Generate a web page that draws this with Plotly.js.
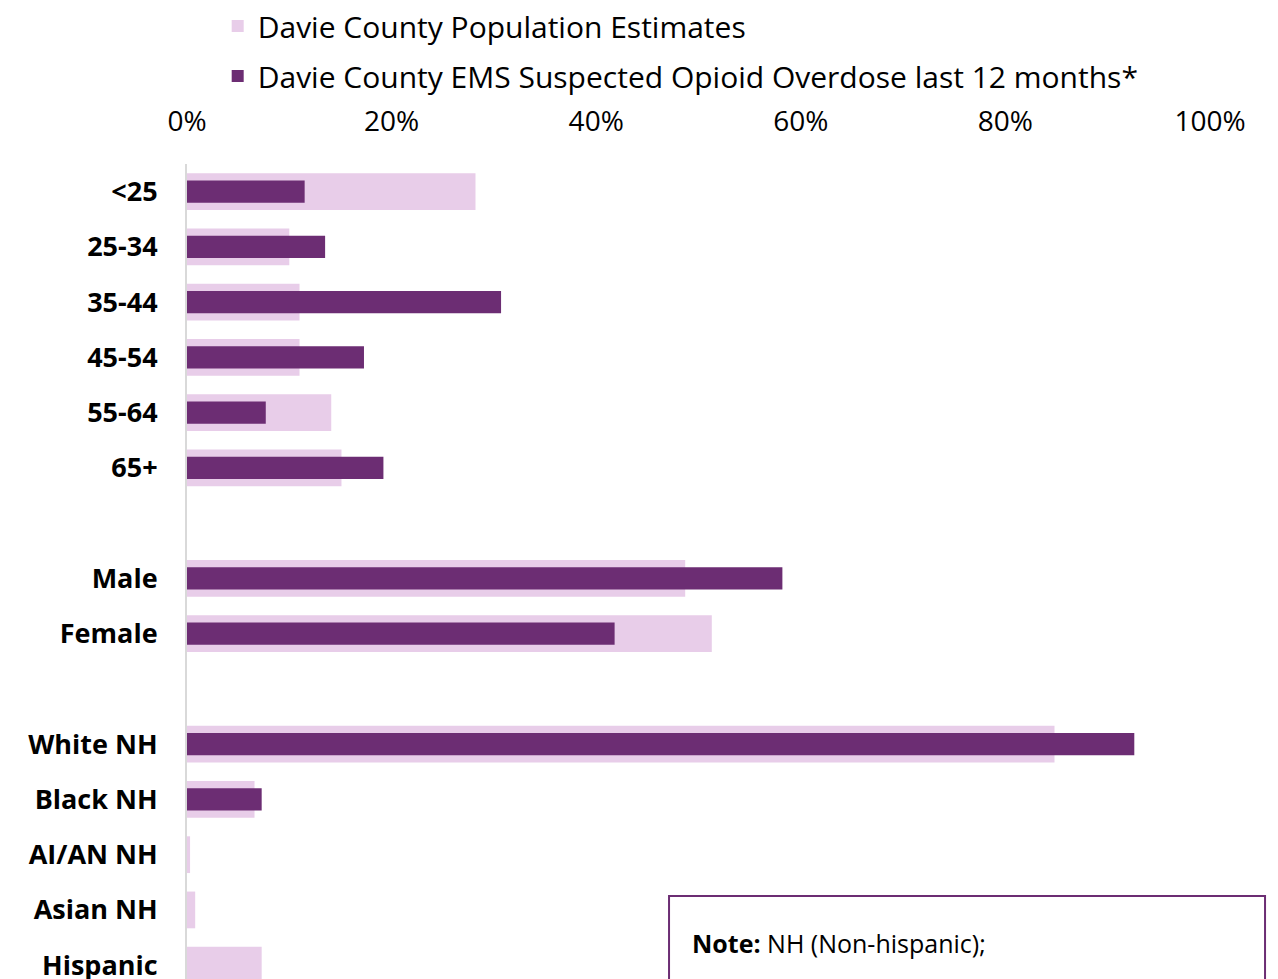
<!DOCTYPE html>
<html>
<head>
<meta charset="utf-8">
<script src="https://cdn.plot.ly/plotly-3.0.1.min.js"></script>
<style>
  html, body { margin: 0; padding: 0; background: #ffffff; }
  #chart { width: 1278px; height: 979px; }
</style>
</head>
<body>
<div id="chart"></div>
<script>
// Categories (blank entries are the spacer rows between groups)
const categories = ['<25', '25-34', '35-44', '45-54', '55-64', '65+', ' ',
                    'Male', 'Female', '  ',
                    'White NH', 'Black NH', 'AI/AN NH', 'Asian NH', 'Hispanic'];

// Share of Davie County population (fraction)
const populationEstimates = [0.282, 0.100, 0.110, 0.110, 0.141, 0.151, null,
                             0.487, 0.513, null,
                             0.848, 0.066, 0.003, 0.008, 0.073];

// Share of EMS suspected opioid overdoses, last 12 months (fraction)
const emsOverdoses = [0.115, 0.135, 0.307, 0.173, 0.077, 0.192, null,
                      0.582, 0.418, null,
                      0.926, 0.073, 0, 0, 0];

const xTickVals = [0, 0.2, 0.4, 0.6, 0.8, 1.0];
const xTickText = ['0%', '20%', '40%', '60%', '80%', '100%'];

const seriesNames = ['Davie County Population Estimates',
                     'Davie County EMS Suspected Opioid Overdose last 12 months*'];

const FONT = '"Open Sans", Lato, sans-serif';

const traces = [
  {
    type: 'bar',
    orientation: 'h',
    name: seriesNames[0],
    y: categories,
    x: populationEstimates,
    width: 0.665,
    marker: { color: '#E8CDE9', line: { width: 0 } },
    legendgroup: 'a',
    hovertemplate: '%{y}: %{x:.1%}<extra></extra>'
  },
  {
    type: 'bar',
    orientation: 'h',
    name: seriesNames[1],
    y: categories,
    x: emsOverdoses,
    width: 0.40,
    marker: { color: '#6C2D73', line: { width: 0 } },
    legendgroup: 'b',
    hovertemplate: '%{y}: %{x:.1%}<extra></extra>'
  }
];

const layout = {
  width: 1278,
  height: 979,
  margin: { l: 187, r: 68, t: 164, b: 0, pad: 0 },
  paper_bgcolor: '#ffffff',
  plot_bgcolor: '#ffffff',
  barmode: 'overlay',
  font: { family: FONT, color: '#000000', size: 26 },
  showlegend: true,
  legend: {
    orientation: 'v',
    x: 0.03,
    xanchor: 'left',
    yref: 'container',
    y: 1.0,
    yanchor: 'top',
    traceorder: 'grouped',
    tracegroupgap: 8,
    font: { family: FONT, size: 30, color: '#000000' },
    bgcolor: 'rgba(0,0,0,0)'
  },
  xaxis: {
    side: 'top',
    range: [0, 1],
    tickvals: xTickVals,
    ticktext: xTickText,
    showgrid: false,
    zeroline: false,
    showline: false,
    ticks: '',
    ticklabelstandoff: 26,
    tickfont: { family: FONT, size: 28, color: '#000000' },
    fixedrange: true
  },
  yaxis: {
    type: 'category',
    categoryorder: 'array',
    categoryarray: categories,
    range: [14.25, -0.5],
    showgrid: false,
    zeroline: false,
    showline: true,
    linecolor: '#D9D9D9',
    linewidth: 2,
    ticks: '',
    ticklabelstandoff: 22,
    tickfont: { family: FONT, size: 27, color: '#000000', weight: 'bold' },
    fixedrange: true
  },
  shapes: [
    {
      type: 'rect',
      xref: 'paper', yref: 'paper',
      x0: 0.4712, x1: 1.0538,
      y0: -0.1, y1: 0.1019,
      line: { color: '#6C2D73', width: 2 },
      fillcolor: '#ffffff',
      layer: 'above'
    }
  ],
  annotations: [
    {
      xref: 'paper', yref: 'paper',
      x: 0.4917, y: 0.0442,
      xanchor: 'left', yanchor: 'middle',
      showarrow: false,
      align: 'left',
      text: '<b>Note:</b> NH (Non-hispanic);',
      font: { family: FONT, size: 25, color: '#000000' }
    }
  ]
};

Plotly.newPlot('chart', traces, layout, { displayModeBar: false, staticPlot: true });
</script>
</body>
</html>
